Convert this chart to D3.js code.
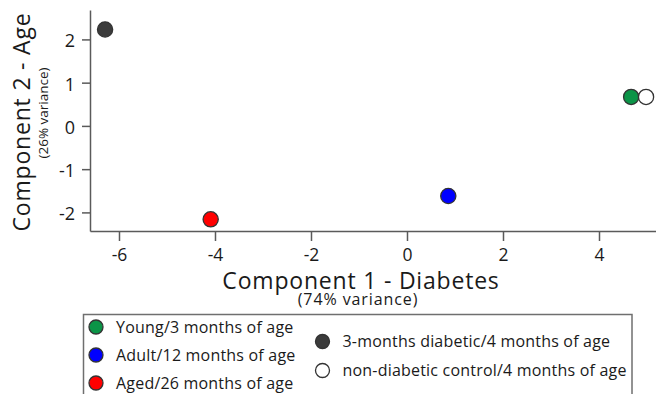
<!DOCTYPE html>
<html>
<head>
<meta charset="utf-8">
<script src="https://cdn.jsdelivr.net/npm/d3@7"></script>
<style>
  html, body { margin: 0; padding: 0; background: #fff; }
  svg { display: block; font-family: "Open Sans", "DejaVu Sans", sans-serif; }
</style>
</head>
<body>
<svg id="chart" width="656" height="394"></svg>
<script>
// PCA scores for each group
const groups = [
  "Young/3 months of age",
  "Adult/12 months of age",
  "Aged/26 months of age",
  "3-months diabetic/4 months of age",
  "non-diabetic control/4 months of age"
];
const component1 = [4.67, 0.86, -4.09, -6.29, 4.98];
const component2 = [0.67, -1.62, -2.16, 2.23, 0.67];
const groupColors = ["#0b9447", "#0000ff", "#ff0000", "#3b3b3b", "#ffffff"];

const xTicks = [-6, -4, -2, 0, 2, 4];
const yTicks = [-2, -1, 0, 1, 2];

const xTitle = "Component 1 - Diabetes";
const xSubtitle = "(74% variance)";
const yTitle = "Component 2 - Age";
const ySubtitle = "(26% variance)";

const svg = d3.select("#chart");
const W = 656, H = 394;
const margin = { left: 90, top: 10, right: 0, bottom: 163 };
const plotW = W - margin.left - margin.right;
const plotH = H - margin.top - margin.bottom;

const x = d3.scaleLinear().domain([-6.604, 5.1875]).range([0, plotW]);
const y = d3.scaleLinear().domain([-2.43, 2.68]).range([plotH, 0]);

const g = svg.append("g").attr("transform", `translate(${margin.left},${margin.top})`);

const axisColor = "#5a5a5a";
const textColor = "#1a1a1a";
const plainNumber = d => String(d);   // hyphen-minus, as in the printed figure

// X axis
const xAxis = g.append("g")
  .attr("transform", `translate(0,${plotH})`)
  .call(d3.axisBottom(x).tickValues(xTicks).tickFormat(plainNumber).tickSize(10).tickSizeOuter(0).tickPadding(8));
xAxis.select(".domain").attr("stroke", axisColor).attr("stroke-width", 1.5);
xAxis.selectAll(".tick line").attr("stroke", axisColor).attr("stroke-width", 1.5);
xAxis.selectAll(".tick text").attr("fill", textColor).attr("font-size", 17.5).attr("font-family", "Open Sans, sans-serif");

// Y axis
const yAxis = g.append("g")
  .call(d3.axisLeft(y).tickValues(yTicks).tickFormat(plainNumber).tickSize(8).tickSizeOuter(0).tickPadding(7));
yAxis.select(".domain").attr("stroke", axisColor).attr("stroke-width", 1.5);
yAxis.selectAll(".tick line").attr("stroke", axisColor).attr("stroke-width", 1.5);
yAxis.selectAll(".tick text").attr("fill", textColor).attr("font-size", 18).attr("font-family", "Open Sans, sans-serif")
  .attr("dy", "0.42em");

// Axis titles
svg.append("text")
  .attr("x", 361).attr("y", 289)
  .attr("text-anchor", "middle")
  .attr("font-size", 23).attr("letter-spacing", 0.8).attr("fill", textColor)
  .text(xTitle);
svg.append("text")
  .attr("x", 358).attr("y", 305)
  .attr("text-anchor", "middle")
  .attr("font-size", 16).attr("letter-spacing", 0.9).attr("fill", textColor)
  .text(xSubtitle);
svg.append("text")
  .attr("transform", "translate(30,122) rotate(-90)")
  .attr("text-anchor", "middle")
  .attr("font-size", 23).attr("letter-spacing", 0.8).attr("fill", textColor)
  .text(yTitle);
svg.append("text")
  .attr("transform", "translate(47.5,113) rotate(-90)")
  .attr("text-anchor", "middle")
  .attr("font-size", 13.5).attr("fill", textColor)
  .text(ySubtitle);

// Points
g.selectAll("circle.pt")
  .data(groups.map((name, i) => ({ name, c1: component1[i], c2: component2[i], color: groupColors[i] })))
  .join("circle")
  .attr("class", "pt")
  .attr("cx", d => x(d.c1))
  .attr("cy", d => y(d.c2))
  .attr("r", 7.6)
  .attr("fill", d => d.color)
  .attr("stroke", "#333")
  .attr("stroke-width", 1.3);

// Legend
const legend = svg.append("g");
legend.append("rect")
  .attr("x", 83.5).attr("y", 314.5)
  .attr("width", 548.5).attr("height", 90)
  .attr("fill", "none")
  .attr("stroke", "#6f6f6f")
  .attr("stroke-width", 1.5);

const legendPos = [
  { cx: 96, cy: 327 },
  { cx: 96, cy: 355 },
  { cx: 96, cy: 383 },
  { cx: 322.5, cy: 341.5 },
  { cx: 322.5, cy: 370.5 }
];
const items = legend.selectAll("g.item")
  .data(groups.map((name, i) => ({ name, color: groupColors[i], pos: legendPos[i] })))
  .join("g")
  .attr("class", "item")
  .attr("transform", d => `translate(${d.pos.cx},${d.pos.cy})`);
items.append("circle")
  .attr("r", 7)
  .attr("fill", d => d.color)
  .attr("stroke", "#333")
  .attr("stroke-width", 1.3);
items.append("text")
  .attr("x", 20)
  .attr("y", 5.5)
  .attr("font-size", 16)
  .attr("letter-spacing", 0.2)
  .attr("fill", textColor)
  .text(d => d.name);
</script>
</body>
</html>
